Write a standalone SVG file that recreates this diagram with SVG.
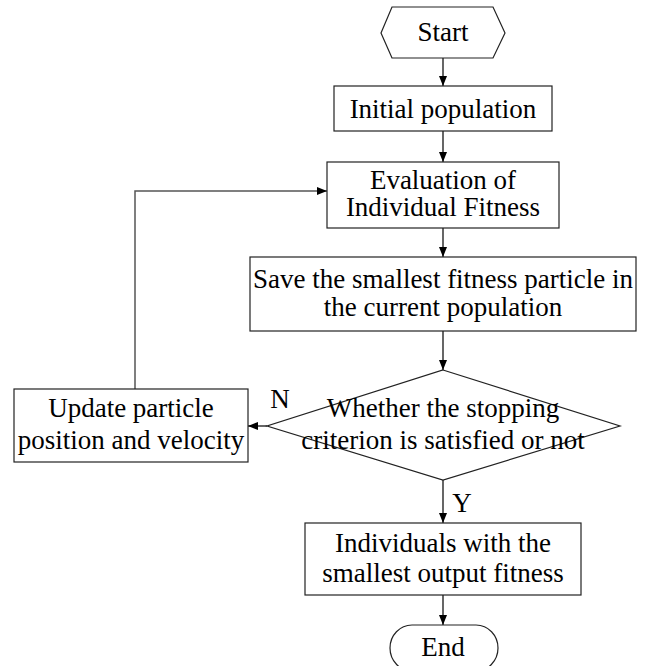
<svg xmlns="http://www.w3.org/2000/svg" width="647" height="666" viewBox="0 0 647 666">
<defs>
<marker id="ah" markerWidth="10" markerHeight="8" refX="10" refY="4" orient="auto" markerUnits="userSpaceOnUse">
<path d="M0,0 L10,4 L0,8 Z" fill="#000"/>
</marker>
<style>
.s{fill:#fff;stroke:#222;stroke-width:1.2}
.t{font-family:"Liberation Serif","Times New Roman",serif;font-size:27px;fill:#000;text-anchor:middle}
.c{fill:none;stroke:#000;stroke-width:1.2}
.g{fill:none;stroke:#555;stroke-width:1.5}
</style>
</defs>
<rect width="647" height="666" fill="#fff"/>
<g id="connectors">
<line class="c" x1="443" y1="58" x2="443" y2="86" marker-end="url(#ah)"/>
<line class="c" x1="443" y1="131" x2="443" y2="162" marker-end="url(#ah)"/>
<line class="c" x1="443" y1="228" x2="443" y2="257" marker-end="url(#ah)"/>
<line class="c" x1="443" y1="331" x2="443" y2="370" marker-end="url(#ah)"/>
<line class="c" x1="443" y1="480" x2="443" y2="523" marker-end="url(#ah)"/>
<line class="c" x1="443" y1="595" x2="443" y2="625" marker-end="url(#ah)"/>
<line class="c" x1="267" y1="426" x2="248" y2="426" marker-end="url(#ah)"/>
<polyline class="g" points="135,389 135,191 327,191" marker-end="url(#ah)"/>
</g>
<g id="start">
<polygon class="s" points="381,33 392,7 493,7 505,33 493,58 392,58"/>
<text class="t" x="443" y="41">Start</text>
</g>
<g id="initial">
<rect class="s" x="334" y="86" width="218" height="45"/>
<text class="t" x="443" y="118">Initial population</text>
</g>
<g id="evaluation">
<rect class="s" x="327" y="162" width="232" height="66"/>
<text class="t" x="443" y="189">Evaluation of</text>
<text class="t" x="443" y="216">Individual Fitness</text>
</g>
<g id="save">
<rect class="s" x="250" y="257" width="386" height="74"/>
<text class="t" x="443" y="288">Save the smallest fitness particle in</text>
<text class="t" x="443" y="316">the current population</text>
</g>
<g id="decision">
<polygon class="s" points="443,370 620,426 443,480 267,426"/>
<text class="t" x="443" y="417">Whether the stopping</text>
<text class="t" x="443" y="449">criterion is satisfied or not</text>
</g>
<g id="update">
<rect class="s" x="14" y="389" width="234" height="73"/>
<text class="t" x="131" y="417">Update particle</text>
<text class="t" x="131" y="449">position and velocity</text>
</g>
<g id="output">
<rect class="s" x="305" y="523" width="276" height="72"/>
<text class="t" x="443" y="552">Individuals with the</text>
<text class="t" x="443" y="582">smallest output fitness</text>
</g>
<g id="end">
<rect class="s" x="390" y="625" width="108" height="46" rx="22" ry="23"/>
<text class="t" x="443" y="656">End</text>
</g>
<g id="labels">
<text class="t" x="280" y="408">N</text>
<text class="t" x="462" y="512">Y</text>
</g>
</svg>
